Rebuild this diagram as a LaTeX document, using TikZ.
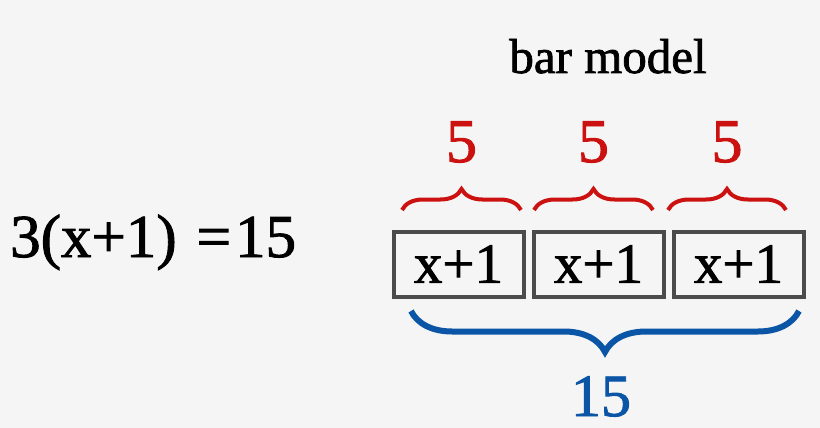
\documentclass[tikz,border=0pt]{standalone}
\usepackage{fontspec}
\setmainfont{Liberation Serif}[FakeBold=1.5]
\usetikzlibrary{positioning,decorations.pathreplacing}
\definecolor{bggray}{HTML}{F5F5F5}
\definecolor{boxgray}{HTML}{4B4B4B}
\definecolor{partred}{HTML}{CC1111}
\definecolor{wholeblue}{HTML}{0A55A5}
\tikzset{
  partbox/.style={draw=boxgray, line width=4pt, minimum width=130pt, minimum height=65pt,
    inner sep=0pt, font=\fontsize{57}{60}\selectfont},
  partbrace/.style={draw=partred, line width=4pt, decorate, decoration={brace, amplitude=21pt}},
  wholebrace/.style={draw=wholeblue, line width=6pt, decorate, decoration={brace, amplitude=41pt}},
  partlabel/.style={text=partred, inner sep=0pt, anchor=base, font=\fontsize{62}{66}\selectfont},
}
\begin{document}
\begin{tikzpicture}[x=1pt, y=-1pt]
        \fill[bggray] (0,0) rectangle (820,428);
        % The equation
        \node[anchor=base west, inner sep=0pt, font=\fontsize{61}{64}\selectfont] (eq) at (10,257) {3(x+1)\hspace{20pt}=\hspace{4pt}15};
        \node[anchor=base, inner sep=0pt, font=\fontsize{49}{52}\selectfont] (title) at (608,73) {bar model};
        % Draw the three boxes
        \node[partbox] (part1) at (458.5,264) {x+1};
        \node[partbox, right=6pt of part1] (part2) {x+1};
        \node[partbox, right=6pt of part2] (part3) {x+1};
        % Red braces over the boxes and their values
        \foreach \a/\b/\n in {402/521/1, 534/653/2, 668/786/3} {
            \draw[partbrace] (\a,210) -- (\b,210);
            \node[partlabel] (five\n) at ({(\a+\b)/2},162) {5};
        }
        % Blue brace under the whole bar
        \draw[wholebrace] (799,311) -- (411,311);
        \node[anchor=base, inner sep=0pt, text=wholeblue, font=\fontsize{60}{64}\selectfont] (total) at (601,416) {15};
    \end{tikzpicture}
\end{document}
